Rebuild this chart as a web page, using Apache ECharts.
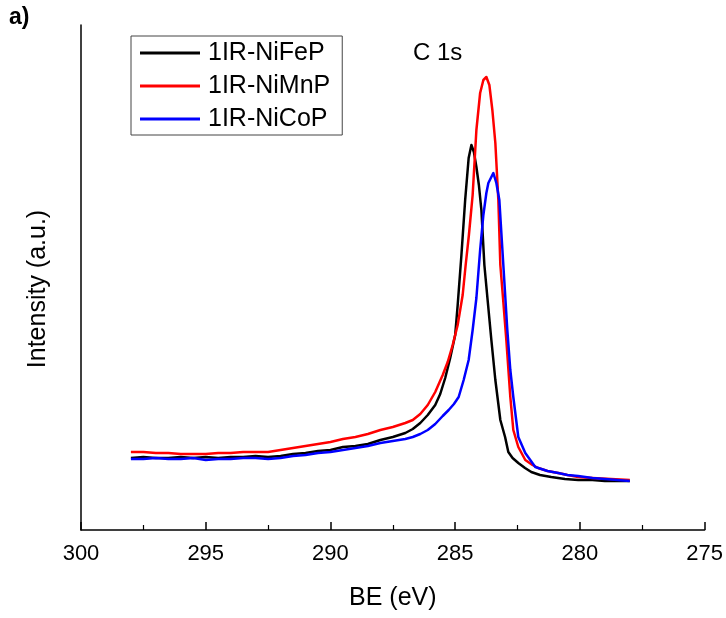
<!DOCTYPE html>
<html>
<head>
<meta charset="utf-8">
<script src="https://cdn.jsdelivr.net/npm/echarts@6/dist/echarts.min.js"></script>
<style>html,body{margin:0;padding:0;background:#fff}#c{width:726px;height:618px}</style>
</head>
<body>
<div id="c"></div>
<script>
// ---- data ----
const xTicks = [300, 295, 290, 285, 280, 275];
const seriesNames = ['1IR-NiFeP', '1IR-NiMnP', '1IR-NiCoP'];

const feE = [298.0,297.5,297.0,296.5,296.0,295.5,295.0,294.5,294.0,293.5,293.0,292.5,292.0,291.5,291.0,290.5,290.0,289.5,289.0,288.5,288.0,287.5,287.0,286.7,286.4,286.1,285.8,285.6,285.4,285.2,285.0,284.9,284.75,284.6,284.46,284.35,284.25,284.15,284.05,283.95,283.83,283.7,283.55,283.39,283.19,283.0,282.87,282.7,282.47,282.2,281.95,281.6,281.15,280.6,280.07,279.5,279.0,278.5,278.0];
const feI = [72,73,72,72,73,72,73,72,73,73,74,73,74,76,77,79,80,83,84,86,90,93,97,101,107,115,125,136,152,172,195,225,275,330,372,385,378,363,345,320,265,230,190,150,110,93,78,72,67,62,58,55,53,51,50,50,49,49,49];

const mnE = [298.0,297.5,297.0,296.5,296.0,295.5,295.0,294.5,294.0,293.5,293.0,292.5,292.0,291.5,291.0,290.5,290.0,289.5,289.0,288.5,288.0,287.5,287.0,286.7,286.4,286.1,285.8,285.5,285.3,285.1,284.9,284.7,284.58,284.45,284.3,284.15,284.0,283.87,283.75,283.63,283.51,283.39,283.27,283.19,283.07,282.95,282.79,282.67,282.47,282.19,281.9,281.67,281.3,280.87,280.5,280.07,279.5,278.75,278.0];
const mnI = [78,78,77,77,76,76,76,77,77,78,78,78,80,82,84,86,88,91,93,96,100,103,107,110,116,125,138,155,168,185,205,235,265,295,335,400,437,450,453,445,420,387,330,265,228,190,133,100,83,70,65,62,59,57,55,53,52,51,50];

const coE = [298.0,297.5,297.0,296.5,296.0,295.5,295.0,294.5,294.0,293.5,293.0,292.5,292.0,291.5,291.0,290.5,290.0,289.5,289.0,288.5,288.0,287.5,287.0,286.7,286.4,286.1,285.8,285.5,285.26,285.05,284.86,284.66,284.46,284.3,284.15,284.0,283.87,283.75,283.67,283.57,283.47,283.35,283.23,283.07,282.91,282.79,282.67,282.47,282.19,281.79,281.3,280.87,280.5,280.07,279.5,279.0,278.5,278.0];
const coI = [71,71,72,71,71,72,70,71,71,72,72,71,72,74,75,77,78,80,82,84,87,89,91,93,96,100,106,114,120,126,133,150,170,200,232,280,315,337,347,352,357,347,330,265,200,160,133,93,77,63,59,57,55,54,52,51,50,49];

const colors = ['#000000', '#ff0000', '#0000ff'];
const zip = (a, b) => a.map((v, i) => [v, b[i]]);
const allData = [zip(feE, feI), zip(mnE, mnI), zip(coE, coI)];

const FONT = 'Liberation Sans, Arial, sans-serif';
const chart = echarts.init(document.getElementById('c'), null, {renderer: 'canvas'});
chart.setOption({
  animation: false,
  backgroundColor: '#ffffff',
  grid: {left: 81, right: 19, top: 25, bottom: 88, containLabel: false},
  xAxis: {
    type: 'value', inverse: true, min: 275, max: 300, interval: 5,
    name: 'BE (eV)', nameLocation: 'middle', nameGap: 56,
    nameTextStyle: {fontFamily: FONT, fontSize: 25, color: '#000'},
    axisLine: {show: true, onZero: false, lineStyle: {color: '#000', width: 1.5}},
    axisTick: {show: true, inside: true, length: 8, lineStyle: {color: '#000', width: 1.5}},
    minorTick: {show: true, splitNumber: 2, length: 5, lineStyle: {color: '#000', width: 1.2}},
    axisLabel: {fontFamily: FONT, fontSize: 22, color: '#000', margin: 13,
      formatter: v => xTicks.includes(v) ? String(v) : ''},
    splitLine: {show: false}
  },
  yAxis: {
    type: 'value', min: 0, max: 505,
    axisLine: {show: true, lineStyle: {color: '#000', width: 1.5}},
    axisTick: {show: false}, axisLabel: {show: false}, splitLine: {show: false}
  },
  legend: {
    orient: 'vertical', left: 131, top: 36,
    data: seriesNames,
    icon: 'rect', itemWidth: 60, itemHeight: 3, itemGap: 7,
    padding: [4, 12, 3, 9],
    borderColor: '#444', borderWidth: 1,
    textStyle: {fontFamily: FONT, fontSize: 25, color: '#000', lineHeight: 26, padding: [0, 0, 0, 3]}
  },
  graphic: [
    {type: 'text', left: 9, top: 6, style: {text: 'a)', font: 'bold 23px ' + FONT, fill: '#000'}},
    {type: 'text', x: 413, y: 53, style: {text: 'C 1s', font: '24px ' + FONT, fill: '#000', textVerticalAlign: 'middle'}},
    {type: 'text', x: 38, y: 289, rotation: Math.PI / 2,
      style: {text: 'Intensity (a.u.)', font: '25px ' + FONT, fill: '#000', textAlign: 'center', textVerticalAlign: 'middle'}}
  ],
  series: seriesNames.map((n, i) => ({
    name: n, type: 'line', data: allData[i], showSymbol: false, symbol: 'none',
    smooth: false,
    lineStyle: {color: colors[i], width: 2.5, join: 'round'}, itemStyle: {color: colors[i]}
  }))
});
</script>
</body>
</html>
